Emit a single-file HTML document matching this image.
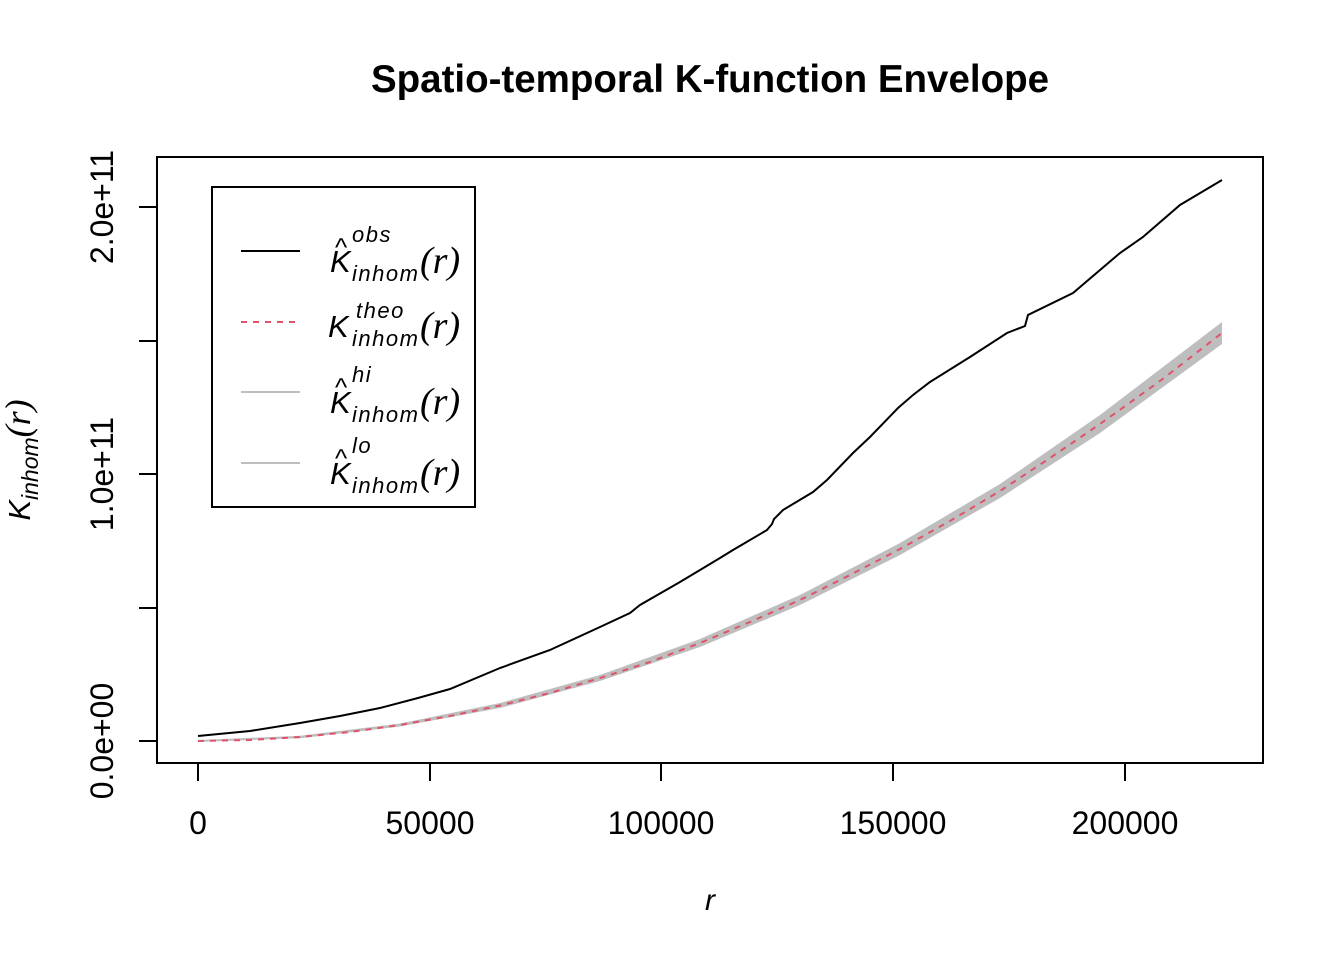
<!DOCTYPE html>
<html><head><meta charset="utf-8"><style>body{margin:0;background:#fff}svg{display:block}</style></head>
<body>
<svg width="1344" height="960" viewBox="0 0 1344 960" xmlns="http://www.w3.org/2000/svg" font-family="Liberation Sans, sans-serif">
<text x="710" y="92" text-anchor="middle" font-size="38.5" font-weight="bold">Spatio-temporal K-function Envelope</text>
<rect x="157" y="157" width="1106" height="606" fill="none" stroke="#000" stroke-width="2"/>
<polygon fill="#bebebe" points="198,740 300,735.8 400,723.5 500,703 600,675 700,639 800,595 900,543 1000,484 1100,415 1222,322 1222,344 1100,433 1000,498 900,555 800,605 700,647 600,681 500,708 400,726.5 300,738.2 198,742"/>
<polyline fill="none" stroke="#df536b" stroke-width="2" stroke-dasharray="6,6" points="198,741 250,740 300,737 350,732 400,725 450,716 500,705.5 550,693 600,678 650,662 700,643 750,622 800,600 850,575 900,549 950,521 1000,491 1050,458 1100,424 1160,381 1222,333"/>
<polyline fill="none" stroke="#000" stroke-width="2" points="198,736 250,731 300,723 340,716 380,708 418,698 450,689 500,668 550,650 600,627 630,613 640,605 680,582 720,558 733,550 767,530 772,524 774,519 783,510 813,492 827,480 853,453 870,437 898,408 913,395 930,382 970,357 1007,333 1025,326 1028,315 1073,293 1120,253 1143,237 1180,205 1222,180"/>
<g stroke="#000" stroke-width="2">
<line x1="198" y1="763" x2="198" y2="781"/><line x1="430" y1="763" x2="430" y2="781"/><line x1="661" y1="763" x2="661" y2="781"/><line x1="893" y1="763" x2="893" y2="781"/><line x1="1125" y1="763" x2="1125" y2="781"/>
<line x1="157" y1="741" x2="139" y2="741"/><line x1="157" y1="608" x2="139" y2="608"/><line x1="157" y1="474" x2="139" y2="474"/><line x1="157" y1="341" x2="139" y2="341"/><line x1="157" y1="207" x2="139" y2="207"/>
</g>
<g font-size="32" text-anchor="middle">
<text x="198" y="834">0</text><text x="430" y="834">50000</text><text x="661" y="834">100000</text><text x="893" y="834">150000</text><text x="1125" y="834">200000</text>
<text transform="translate(113,741) rotate(-90)">0.0e+00</text>
<text transform="translate(113,474) rotate(-90)">1.0e+11</text>
<text transform="translate(113,207) rotate(-90)">2.0e+11</text>
</g>
<text x="710" y="910" text-anchor="middle" font-size="30" font-style="italic">r</text>
<text transform="translate(30,460) rotate(-90)" text-anchor="middle" font-size="31" font-style="italic">K<tspan font-size="23" dy="8">inhom</tspan><tspan font-family="Liberation Serif, serif" font-size="36" dy="-8">(r)</tspan></text>
<rect x="212" y="187" width="263" height="320" fill="#fff" stroke="#000" stroke-width="2"/>
<line x1="241" y1="251" x2="300" y2="251" stroke="#000" stroke-width="2"/>
<line x1="241" y1="322" x2="300" y2="322" stroke="#df536b" stroke-width="2" stroke-dasharray="6,6"/>
<line x1="241" y1="392" x2="300" y2="392" stroke="#bebebe" stroke-width="2"/>
<line x1="241" y1="463" x2="300" y2="463" stroke="#bebebe" stroke-width="2"/>
<g font-style="italic">
<g font-size="31"><text x="330" y="272">K</text><text x="328" y="337">K</text><text x="330" y="413">K</text><text x="330" y="484">K</text></g>
<g font-size="22" letter-spacing="1.5"><text x="352" y="281">inhom</text><text x="352" y="346">inhom</text><text x="352" y="422">inhom</text><text x="352" y="493">inhom</text>
<text x="352" y="242">obs</text><text x="356" y="318">theo</text><text x="352" y="382">hi</text><text x="352" y="453">lo</text></g>
<g font-size="38" font-family="Liberation Serif, serif"><text x="420" y="273">(r)</text><text x="420" y="338">(r)</text><text x="420" y="414">(r)</text><text x="420" y="485">(r)</text></g>
</g>
<g font-size="26"><text x="335" y="256">^</text><text x="335" y="396">^</text><text x="335" y="467">^</text></g>
</svg>
</body></html>
